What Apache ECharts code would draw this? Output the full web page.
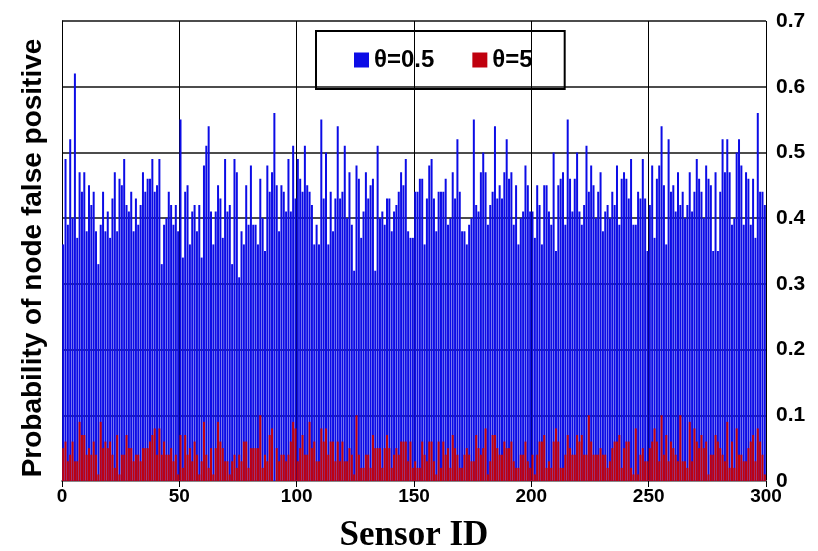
<!DOCTYPE html>
<html>
<head>
<meta charset="utf-8">
<script src="https://cdn.jsdelivr.net/npm/echarts@6/dist/echarts.min.js"></script>
<style>html,body{margin:0;padding:0;background:#fff;}#c{width:818px;height:551px;}</style>
</head>
<body>
<div id="c"></div>
<script>
// Sensor IDs 1..300
const sensorIds = [];
for (let i = 1; i <= 300; i++) sensorIds.push(i);

// θ = 0.5 (blue)
const theta05 = [
0.36,0.49,0.39,0.52,0.40,0.62,0.37,0.47,0.44,0.47,0.38,0.45,0.42,0.44,0.38,0.33,0.39,0.44,0.38,0.41,
0.37,0.43,0.47,0.38,0.46,0.45,0.49,0.42,0.41,0.44,0.38,0.43,0.39,0.42,0.47,0.44,0.46,0.46,0.49,0.44,
0.45,0.49,0.33,0.39,0.40,0.44,0.42,0.39,0.42,0.38,0.55,
0.34,0.44,0.45,0.36,0.41,0.42,0.38,0.42,0.34,0.48,0.51,0.54,0.41,0.36,0.41,0.45,0.43,0.37,0.49,0.41,
0.42,0.33,0.49,0.47,0.31,0.38,0.36,0.45,0.39,0.48,0.39,0.39,0.36,0.46,0.40,0.35,0.48,0.44,0.47,0.56,
0.45,0.38,0.45,0.44,0.41,0.49,0.41,0.51,0.43,0.49,
0.46,0.44,0.51,0.45,0.44,0.42,0.36,0.39,0.36,0.55,0.43,0.50,0.36,0.44,0.38,0.43,0.54,0.43,0.44,0.51,
0.40,0.47,0.39,0.32,0.48,0.46,0.37,0.41,0.47,0.43,0.45,0.46,0.32,0.51,0.40,0.41,0.39,0.43,0.43,0.38,
0.41,0.42,0.44,0.47,0.45,0.49,0.38,0.37,0.37,0.44,
0.44,0.46,0.46,0.36,0.43,0.48,0.49,0.43,0.38,0.44,0.44,0.44,0.46,0.39,0.40,0.47,0.43,0.52,0.44,0.38,
0.38,0.36,0.39,0.40,0.55,0.42,0.41,0.47,0.50,0.47,0.39,0.42,0.44,0.54,0.43,0.45,0.43,0.47,0.52,0.46,
0.47,0.39,0.45,0.36,0.40,0.41,0.48,0.45,0.41,0.41,
0.37,0.45,0.42,0.36,0.45,0.45,0.41,0.39,0.50,0.35,0.45,0.46,0.47,0.39,0.55,0.46,0.41,0.46,0.50,0.41,
0.39,0.42,0.51,0.44,0.48,0.45,0.40,0.44,0.47,0.38,0.41,0.42,0.40,0.44,0.42,0.48,0.39,0.46,0.47,0.46,
0.43,0.49,0.39,0.39,0.44,0.43,0.49,0.43,0.35,0.42,
0.48,0.37,0.46,0.48,0.54,0.45,0.36,0.52,0.44,0.45,0.41,0.47,0.42,0.44,0.40,0.42,0.47,0.41,0.44,0.49,
0.46,0.44,0.40,0.48,0.46,0.45,0.35,0.47,0.35,0.44,0.52,0.47,0.52,0.47,0.39,0.40,0.50,0.52,0.48,0.39,
0.47,0.46,0.39,0.46,0.37,0.56,0.44,0.44,0.42
];

// θ = 5 (red)
const theta5 = [
0.05,0.06,0.03,0.04,0.06,0.03,0.03,0.09,0.07,0.07,0.04,0.05,0.04,0.06,0.04,0.01,0.09,0.05,0.06,0.05,
0.06,0.04,0.02,0.07,0.01,0.04,0.04,0.07,0.05,0.05,0.03,0.04,0.04,0.03,0.05,0.05,0.05,0.06,0.07,0.08,
0.04,0.08,0.04,0.06,0.04,0.04,0.05,0.03,0.04,0.01,
0.07,0.02,0.07,0.04,0.05,0.03,0.06,0.04,0.01,0.03,0.09,0.04,0.02,0.05,0.01,0.05,0.09,0.06,0.05,0.03,
0.03,0.01,0.03,0.04,0.02,0.04,0.03,0.06,0.06,0.02,0.05,0.05,0.05,0.05,0.10,0.02,0.04,0.03,0.07,0.08,
0.00,0.05,0.03,0.04,0.04,0.03,0.04,0.06,0.09,0.08,
0.03,0.05,0.07,0.04,0.04,0.09,0.05,0.06,0.03,0.03,0.08,0.06,0.08,0.04,0.06,0.06,0.03,0.06,0.03,0.06,
0.03,0.03,0.05,0.04,0.01,0.10,0.04,0.02,0.02,0.04,0.04,0.02,0.07,0.05,0.05,0.05,0.02,0.05,0.07,0.05,
0.02,0.04,0.05,0.04,0.06,0.06,0.06,0.03,0.06,0.02,0.03,
0.02,0.02,0.06,0.04,0.03,0.06,0.06,0.03,0.01,0.06,0.02,0.06,0.04,0.05,0.02,0.07,0.05,0.04,0.02,0.02,
0.04,0.05,0.04,0.03,0.03,0.07,0.05,0.04,0.05,0.08,0.01,0.03,0.07,0.07,0.05,0.04,0.04,0.06,0.05,0.05,
0.06,0.03,0.02,0.02,0.04,0.04,0.06,0.03,0.02,0.04,
0.01,0.04,0.06,0.06,0.07,0.02,0.03,0.02,0.06,0.08,0.06,0.02,0.02,0.04,0.07,0.05,0.04,0.04,0.07,0.06,
0.07,0.04,0.04,0.10,0.06,0.04,0.04,0.04,0.05,0.04,0.04,0.02,0.03,0.05,0.06,0.06,0.07,0.02,0.05,0.06,
0.06,0.02,0.01,0.08,0.01,0.04,0.05,0.03,0.03,0.05,
0.06,0.08,0.06,0.03,0.10,0.04,0.07,0.03,0.06,0.05,0.04,0.03,0.10,0.03,0.03,0.02,0.09,0.03,0.08,0.06,
0.05,0.07,0.05,0.06,0.01,0.04,0.04,0.07,0.06,0.05,0.04,0.03,0.09,0.02,0.06,0.02,0.08,0.04,0.04,0.03,
0.03,0.05,0.06,0.07,0.03,0.08,0.06,0.04,0.01
];

const xTickValues = [0, 50, 100, 150, 200, 250, 300];
const yTickValues = [0, 0.1, 0.2, 0.3, 0.4, 0.5, 0.6, 0.7];

const seriesNames = ['θ=0.5', 'θ=5'];
const FONT = '"Liberation Sans", Arial, sans-serif';
const SERIF = '"Liberation Serif", "Times New Roman", serif';

const chart = echarts.init(document.getElementById('c'), null, {renderer: 'canvas'});
chart.setOption({
  animation: false,
  backgroundColor: '#ffffff',
  grid: {left: 62, right: 52, top: 21, bottom: 70, containLabel: false, outerBoundsMode: 'none'},
  legend: {
    data: seriesNames,
    left: 316, top: 31,
    width: 252,
    padding: [17, 32, 17, 38],
    itemGap: 38,
    itemWidth: 15, itemHeight: 15,
    icon: 'rect',
    borderColor: '#000', borderWidth: 2,
    textStyle: {fontFamily: FONT, fontWeight: 'bold', fontSize: 24, color: '#000'}
  },
  xAxis: [
    {
      type: 'category', data: sensorIds, boundaryGap: true,
      axisLine: {show: false}, axisTick: {show: false}, axisLabel: {show: false},
      splitLine: {show: false}
    },
    {
      type: 'value', min: xTickValues[0], max: xTickValues[xTickValues.length - 1], interval: 50,
      position: 'bottom',
      name: 'Sensor ID', nameLocation: 'middle', nameGap: 37,
      nameTextStyle: {fontFamily: SERIF, fontWeight: 'bold', fontSize: 35, color: '#000'},
      axisLine: {show: true, lineStyle: {color: '#888', width: 2}},
      axisTick: {show: true, length: 6, lineStyle: {color: '#000'}},
      axisLabel: {fontFamily: FONT, fontWeight: 'bold', fontSize: 19, color: '#000', margin: 6},
      splitLine: {show: true, lineStyle: {color: '#000', width: 1}}
    }
  ],
  yAxis: [
    {
      type: 'value', position: 'right', min: yTickValues[0], max: yTickValues[yTickValues.length - 1], interval: 0.1,
      axisLine: {show: false}, axisTick: {show: false},
      axisLabel: {fontFamily: FONT, fontWeight: 'bold', fontSize: 21, color: '#000', margin: 10,
        formatter: v => String(Math.round(v * 10) / 10)},
      splitLine: {show: true, lineStyle: {color: '#111', width: 1.5}}
    },
    {
      type: 'value', position: 'left', min: 0, max: 0.7, interval: 0.1,
      name: 'Probability of node false positive', nameLocation: 'middle', nameRotate: 90, nameGap: 15,
      nameTextStyle: {fontFamily: FONT, fontWeight: 'bold', fontSize: 28, color: '#000', padding: [0, 14, 0, 0]},
      axisLine: {show: true, lineStyle: {color: '#000', width: 1}},
      axisTick: {show: false}, axisLabel: {show: false}, splitLine: {show: false}
    }
  ],
  series: [
    {
      name: seriesNames[0], type: 'bar', xAxisIndex: 0, yAxisIndex: 0,
      data: theta05, barCategoryGap: '15%', barGap: '-100%',
      itemStyle: {color: '#0c0ce6'}
    },
    {
      name: seriesNames[1], type: 'bar', xAxisIndex: 0, yAxisIndex: 0,
      data: theta5, barCategoryGap: '15%', barGap: '-100%',
      itemStyle: {color: '#c0000e'}
    }
  ]
});
</script>
</body>
</html>
